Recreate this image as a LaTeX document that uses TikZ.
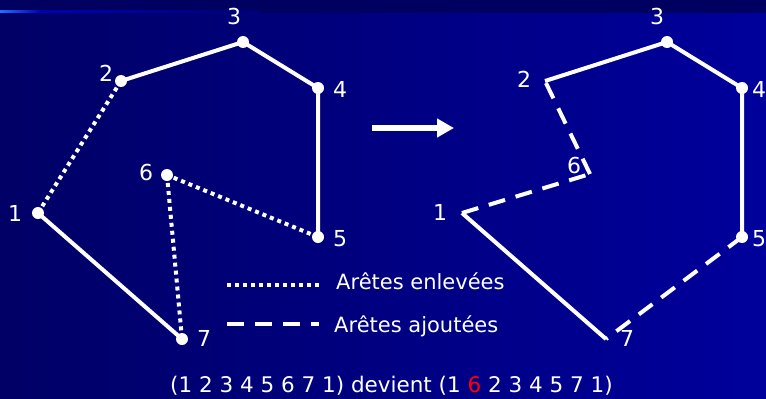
\documentclass[tikz,border=0pt]{standalone}
\usepackage{fontspec}
\setmainfont{DejaVu Sans}
\usetikzlibrary{arrows.meta}
\definecolor{bgL}{RGB}{0,0,102}
\definecolor{bgR}{RGB}{0,0,156}
\definecolor{bgTop}{RGB}{0,0,96}
\definecolor{lineBright}{RGB}{40,110,255}
\definecolor{lineMid}{RGB}{0,0,180}
\definecolor{redTxt}{RGB}{255,0,0}
\tikzset{
  dotnode/.style={circle,fill=white,inner sep=0pt,minimum size=12pt},
  lbl/.style={text=white,inner sep=0pt,font=\fontsize{22}{26}\selectfont,text height=16pt,text depth=0pt,anchor=center},
  txt/.style={text=white,inner sep=0pt,font=\fontsize{21}{25}\selectfont},
  bottxt/.style={text=white,inner sep=0pt,font=\fontsize{21.5}{26}\selectfont},
  solidedge/.style={draw=white,line width=4pt},
  dottededge/.style={draw=white,line width=4pt,dash pattern=on 4pt off 4pt},
  dashededge/.style={draw=white,line width=4pt,dash pattern=on 17pt off 11pt},
  bigarrow/.style={draw=white,line width=6pt,-{Triangle[length=17pt,width=18pt]}}
}
\begin{document}
\begin{tikzpicture}[x=1pt,y=-1pt]
\useasboundingbox (0,0) rectangle (766,399);
% background
\shade[left color=bgL,right color=bgR] (0,12.5) rectangle (766,399);
\fill[bgTop] (0,0) rectangle (766,12.5);
\shade[left color=lineBright,right color=lineMid] (0,10) rectangle (40,12.5);
\shade[left color=lineMid,right color=bgL!70!bgR] (40,10) rectangle (260,12.5);

% left graph
\node[dotnode] (a1) at (38,213) {};
\node[dotnode] (a2) at (121,81) {};
\node[dotnode] (a3) at (243,42) {};
\node[dotnode] (a4) at (318,88) {};
\node[dotnode] (a5) at (318,237) {};
\node[dotnode] (a6) at (167,175) {};
\node[dotnode] (a7) at (182,339) {};
\path[dottededge] (a1.center) -- (a2.center);
\path[solidedge] (a2.center) -- (a3.center) -- (a4.center) -- (a5.center);
\path[dottededge] (a5.center) -- (a6.center);
\path[dottededge] (a6.center) -- (a7.center);
\path[solidedge] (a7.center) -- (a1.center);
\node[lbl] (la1) at (15,213) {1};
\node[lbl] (la2) at (106,73) {2};
\node[lbl] (la3) at (234,16) {3};
\node[lbl] (la4) at (340,89) {4};
\node[lbl] (la5) at (340,238) {5};
\node[lbl] (la6) at (146,172) {6};
\node[lbl] (la7) at (204,338) {7};

% arrow
\coordinate (arS) at (372,128);
\coordinate (arE) at (454,128);
\draw[bigarrow] (arS) -- (arE);

% right graph
\coordinate (b1) at (462,213);
\coordinate (b2) at (545,81);
\node[dotnode] (b3) at (667,42) {};
\node[dotnode] (b4) at (742,88) {};
\node[dotnode] (b5) at (742,237) {};
\coordinate (b6) at (590,174);
\coordinate (b7) at (606,339);
\path[solidedge] (b2) -- (b3.center) -- (b4.center) -- (b5.center);
\path[dashededge] (b5.center) -- (b7);
\path[solidedge] (b7) -- (b1);
\path[dashededge] (b1) -- (b6);
\path[dashededge] (b6) -- (b2);
\node[lbl] (lb1) at (440,212) {1};
\node[lbl] (lb2) at (524,79) {2};
\node[lbl] (lb3) at (657,16) {3};
\node[lbl] (lb4) at (759,89) {4};
\node[lbl] (lb5) at (759,238) {5};
\node[lbl] (lb6) at (574,165) {6};
\node[lbl] (lb7) at (627,338) {7};

% legend
\coordinate (l1s) at (227,285);
\coordinate (l1e) at (319,285);
\coordinate (l2s) at (227,324);
\coordinate (l2e) at (319,324);
\path[dottededge] (l1s) -- (l1e);
\path[dashededge] (l2s) -- (l2e);
\node[txt,anchor=base west] (t1) at (336,289) {Arêtes enlevées};
\node[txt,anchor=base west] (t2) at (334,332) {Arêtes ajoutées};

% bottom line
\node[bottxt,anchor=base] (bot) at (391.5,392) {(1 2 3 4 5 6 7 1) devient (1 {\color{redTxt}6} 2 3 4 5 7 1)};
\end{tikzpicture}
\end{document}
